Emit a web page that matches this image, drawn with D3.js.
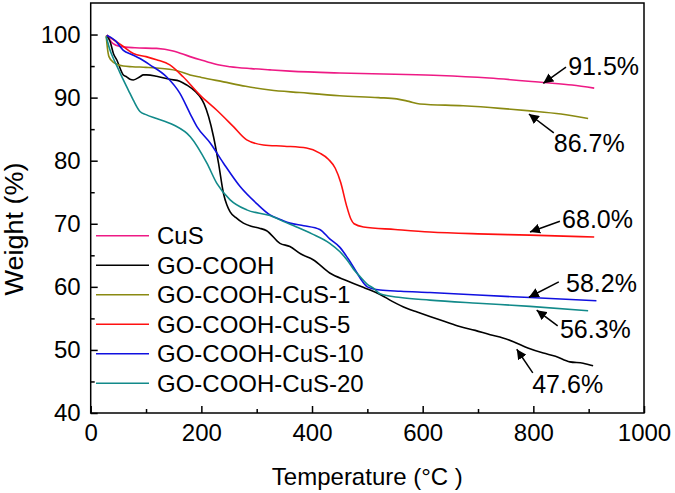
<!DOCTYPE html>
<html><head><meta charset="utf-8">
<script src="https://cdn.jsdelivr.net/npm/d3@7"></script>
<style>body{margin:0;background:#fff}svg{display:block}text{font-family:"Liberation Sans",Arial,sans-serif;fill:#000}</style>
</head><body><svg id="c" width="675" height="493"></svg>
<script>
const seriesNames = ["CuS","GO-COOH","GO-COOH-CuS-1","GO-COOH-CuS-5","GO-COOH-CuS-10","GO-COOH-CuS-20"];
const seriesColors = ["#ee1a85","#000000","#8a8a12","#ff1010","#1010e0","#128a8a"];

const tCuS = [29,40,53,80,119,149,179.5,198,210,230,252,290,324,360,450,550,631,720,818,870,910];
const wCuS = [99.9,98.6,98.1,97.9,97.8,97.4,96.5,96.0,95.7,95.2,94.9,94.6,94.4,94.2,93.9,93.7,93.5,93.1,92.4,92.0,91.5];

const tGO = [29,35,41,47,59,65,71,77,89,95,101,119,143,161,173.5,190,198,205,213,222,231,240,246,252,262,276,290,305,318,342,360,380,402,432,462,490,505,523,545,571,590,613,640,667,695,722,745,764,790,818,840,866,890,908];
const wGO = [99.8,98.9,97.0,96.0,93.6,93.3,92.9,92.8,93.3,93.6,93.6,93.4,92.9,92.6,92.0,90.9,90.1,89.0,87.0,83.8,79.6,74.8,73.0,71.9,71.0,70.1,69.6,69.3,68.9,66.9,66.4,65.2,64.3,62.2,61.0,60.0,59.5,58.8,57.7,56.6,56.0,55.3,54.5,53.7,53.1,52.4,51.9,51.3,50.3,49.5,49.0,48.1,47.9,47.5];

const tC1 = [28,30,33,41,59,75,100,119,155,179.5,200,240,280,324,378,450,520,553,575,595,673,740,794,850,899];
const wC1 = [99.8,98.0,96.5,95.6,95.0,94.9,94.8,94.7,94.3,93.6,93.2,92.5,91.8,91.2,90.8,90.3,90.0,89.8,89.4,89.0,88.7,88.3,87.9,87.4,86.7];

const tC5 = [29,59,77,100,119,143,167,197.5,228,258,282,312,350,390,414,430,442,452,462,470,476,493,550,613,700,794,910];
const wC5 = [99.9,98.1,97.0,96.5,96.0,95.2,93.3,90.4,88.0,85.4,83.3,82.5,82.3,82.0,81.2,80.2,78.8,76.5,73.0,70.8,70.0,69.5,69.1,68.7,68.4,68.2,67.9];

const tC10 = [29,45,59,75,89,107,137,161,180,192,216,240,270,300,324,345,360,385,414,432,450,465,480,490,500,523,560,613,700,794,914];
const wC10 = [99.9,99.0,97.5,96.8,96.2,95.2,93.3,90.7,87.4,85.4,82.8,79.6,75.9,73.2,71.4,70.6,70.1,69.7,69.1,67.6,66.3,64.5,62.4,61.0,60.0,59.5,59.3,59.1,58.7,58.3,57.8];

const tC20 = [28,35,41,50,59,68,77,89,100,119,149,180,210,228,252,282,324,350,372,400,432,450,463,475,487,500,511,523,560,613,700,794,899];
const wC20 = [99.7,97.5,96.2,94.5,92.8,91.2,89.6,87.8,87.3,86.7,85.7,83.8,79.6,76.4,73.8,72.2,71.3,70.3,69.5,68.4,66.9,65.6,64.3,62.8,61.6,60.4,59.8,58.9,58.3,57.9,57.4,56.9,56.2];

const seriesT = [tCuS,tGO,tC1,tC5,tC10,tC20];
const seriesW = [wCuS,wGO,wC1,wC5,wC10,wC20];

const xTicks = [0,200,400,600,800,1000];
const xMinor = [100,300,500,700,900];
const yTicks = [40,50,60,70,80,90,100];
const yMinor = [45,55,65,75,85,95];

const annLabels = ["91.5%","86.7%","68.0%","58.2%","56.3%","47.6%"];
const annHeadX = [818,792,794,792,806,770];
const annHeadY = [92.27,87.4,68.7,58.35,56.3,50.1];
const annTailX = [859,837,848,846,844,799];
const annTailY = [94.85,84.4,70.4,60.8,53.8,46.35];
const annTextX = [863,837,852,859,848,798];
const annTextY = [93.6,81.4,69.3,59.2,51.9,43.2];

const L=90.7,R=644,T=3,B=413;
const svg=d3.select("#c");
const x=d3.scaleLinear().domain([0,1000]).range([L,R]);
const y=d3.scaleLinear().domain([40,105]).range([B,T]);

svg.append("defs").append("marker").attr("id","ah").attr("viewBox","0 0 10 10")
  .attr("refX",10).attr("refY",5).attr("markerWidth",10).attr("markerHeight",10)
  .attr("markerUnits","userSpaceOnUse").attr("orient","auto")
  .append("path").attr("d","M0,0L10,5L0,10z").attr("fill","#000");

const gx=svg.append("g").attr("transform",`translate(0,${B})`)
 .call(d3.axisBottom(x).tickValues(xTicks).tickSizeInner(-7).tickSizeOuter(0).tickPadding(11).tickFormat(d3.format("d")));
const gxm=svg.append("g").attr("transform",`translate(0,${B})`)
 .call(d3.axisBottom(x).tickValues(xMinor).tickSizeInner(-4).tickSizeOuter(0).tickFormat(""));
const gy=svg.append("g").attr("transform",`translate(${L},0)`)
 .call(d3.axisLeft(y).tickValues(yTicks).tickSizeInner(-7).tickSizeOuter(0).tickPadding(10));
const gym=svg.append("g").attr("transform",`translate(${L},0)`)
 .call(d3.axisLeft(y).tickValues(yMinor).tickSizeInner(-4).tickSizeOuter(0).tickFormat(""));
[gx,gxm,gy,gym].forEach(g=>{g.select(".domain").remove();g.selectAll("line").attr("stroke","#000").attr("stroke-width",1.5);
 g.selectAll("text").style("font-size","24px").style("font-family","Liberation Sans, Arial, sans-serif").attr("fill","#000");});

const line=d3.line().x(d=>x(d[0])).y(d=>y(d[1])).curve(d3.curveMonotoneX);
seriesNames.forEach((n,i)=>{
  const pts=seriesT[i].map((t,j)=>[t,seriesW[i][j]]);
  svg.append("path").attr("d",line(pts)).attr("fill","none").attr("stroke",seriesColors[i]).attr("stroke-width",1.6);
});

svg.append("rect").attr("x",L).attr("y",T).attr("width",R-L).attr("height",B-T).attr("fill","none").attr("stroke","#000").attr("stroke-width",1.5);

const lg=svg.append("g");
seriesNames.forEach((n,i)=>{
  const yy=235.7+i*29.5;
  lg.append("line").attr("x1",96).attr("x2",149).attr("y1",yy).attr("y2",yy).attr("stroke",seriesColors[i]).attr("stroke-width",1.6);
  lg.append("text").attr("x",157).attr("y",yy).attr("dy","0.35em").style("font-size","24px").text(n);
});

annLabels.forEach((l,i)=>{
  svg.append("line").attr("x1",x(annTailX[i])).attr("y1",y(annTailY[i])).attr("x2",x(annHeadX[i])).attr("y2",y(annHeadY[i]))
    .attr("stroke","#000").attr("stroke-width",1.5).attr("marker-end","url(#ah)");
  svg.append("text").attr("x",x(annTextX[i])).attr("y",y(annTextY[i])).style("font-size","25px").text(l);
});

svg.append("text").attr("x",(L+R)/2).attr("y",485).attr("text-anchor","middle").style("font-size","24px").text("Temperature (°C )");
svg.append("text").attr("transform","translate(23,229) rotate(-90)").attr("text-anchor","middle").style("font-size","25px")
  .attr("textLength",133).attr("lengthAdjust","spacingAndGlyphs").text("Weight (%)");
</script></body></html>
